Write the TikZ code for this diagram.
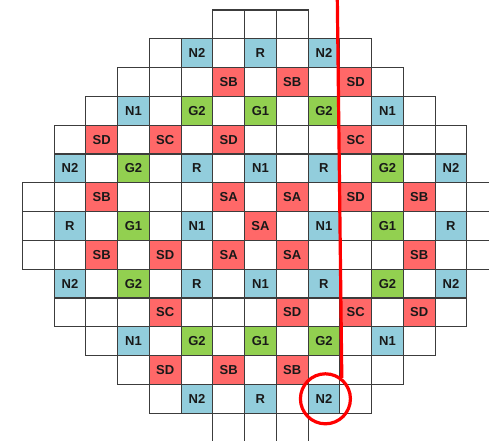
\documentclass[tikz,border=0pt]{standalone}
\usepackage{fontspec}
\setmainfont{Liberation Sans}
\definecolor{cblue}{RGB}{146,205,220}
\definecolor{cred}{RGB}{255,104,104}
\definecolor{cgreen}{RGB}{146,208,80}
\definecolor{gridc}{RGB}{60,60,60}
\definecolor{mark}{RGB}{255,0,0}
\tikzset{
  cell/.style={draw=gridc, line width=1.1pt, fill=white, minimum width=31.75pt, minimum height=28.8pt, inner sep=0pt, font=\fontsize{13}{15}\selectfont\bfseries},
  lab/.style={cell, fill=#1, text=black!90},
  marker/.style={draw=mark, line width=3.2pt},
}
\begin{document}
\begin{tikzpicture}[x=1pt,y=-1pt]
\useasboundingbox (0,0) rectangle (489,440);
\fill[white] (0,0) rectangle (489,440);
% empty grid
\foreach \r/\a/\b in {0/6/8,1/4/10,2/3/11,3/2/12,4/1/13,5/1/13,6/0/14,7/0/14,8/0/14,9/1/13,10/1/13,11/2/12,12/3/11,13/4/10,14/6/8}{
  \foreach \c in {\a,...,\b}{
    \node[cell] (c\r-\c) at ({22.3+\c*31.75+15.875},{10+\r*28.8+14.4}) {};
  }
}
% labelled cells
\foreach \r/\c/\t/\k in {
  1/5/N2/cblue, 1/7/R/cblue, 1/9/N2/cblue,
  2/6/SB/cred, 2/8/SB/cred, 2/10/SD/cred,
  3/3/N1/cblue, 3/5/G2/cgreen, 3/7/G1/cgreen, 3/9/G2/cgreen, 3/11/N1/cblue,
  4/2/SD/cred, 4/4/SC/cred, 4/6/SD/cred, 4/10/SC/cred,
  5/1/N2/cblue, 5/3/G2/cgreen, 5/5/R/cblue, 5/7/N1/cblue, 5/9/R/cblue, 5/11/G2/cgreen, 5/13/N2/cblue,
  6/2/SB/cred, 6/6/SA/cred, 6/8/SA/cred, 6/10/SD/cred, 6/12/SB/cred,
  7/1/R/cblue, 7/3/G1/cgreen, 7/5/N1/cblue, 7/7/SA/cred, 7/9/N1/cblue, 7/11/G1/cgreen, 7/13/R/cblue,
  8/2/SB/cred, 8/4/SD/cred, 8/6/SA/cred, 8/8/SA/cred, 8/12/SB/cred,
  9/1/N2/cblue, 9/3/G2/cgreen, 9/5/R/cblue, 9/7/N1/cblue, 9/9/R/cblue, 9/11/G2/cgreen, 9/13/N2/cblue,
  10/4/SC/cred, 10/8/SD/cred, 10/10/SC/cred, 10/12/SD/cred,
  11/3/N1/cblue, 11/5/G2/cgreen, 11/7/G1/cgreen, 11/9/G2/cgreen, 11/11/N1/cblue,
  12/4/SD/cred, 12/6/SB/cred, 12/8/SB/cred,
  13/5/N2/cblue, 13/7/R/cblue, 13/9/N2/cblue}{
  \node[lab=\k] (l\r-\c) at (c\r-\c) {\t};
}
% red marker
\node[marker, circle, minimum size=50pt, inner sep=0pt] (circ) at ([xshift=1.5pt]c13-9) {};
\coordinate (top) at (337.3,-2);
\draw[marker] (top) -- (circ.52);
\end{tikzpicture}
\end{document}
